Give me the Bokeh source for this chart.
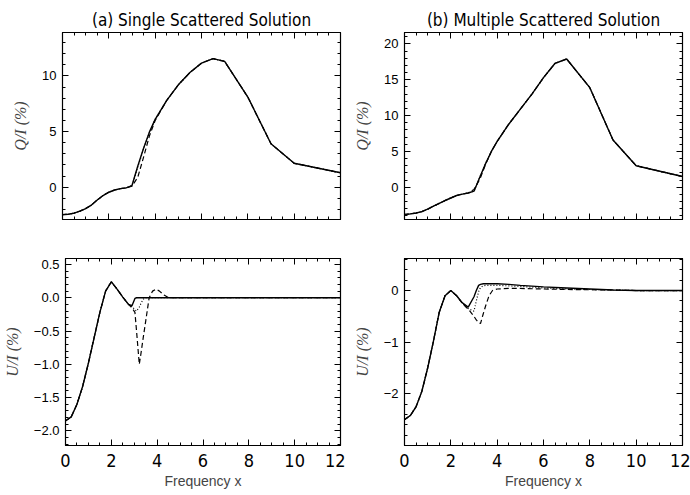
from bokeh.plotting import figure
from bokeh.models import Range1d, FixedTicker, LinearAxis
from bokeh.layouts import column, row
from bokeh.embed import file_html
from bokeh.resources import INLINE

# ---------------- data ----------------
xq = [0, 0.25, 0.5, 0.75, 1.0, 1.25, 1.5, 1.75, 2.0, 2.25, 2.5, 2.75, 3.0,
      3.25, 3.5, 3.75, 4.0, 4.5, 5.0, 5.5, 6.0, 6.5, 7.0, 8.0, 9.0, 10.0, 12.0]

qa_solid = [-2.46, -2.43, -2.33, -2.15, -1.92, -1.6, -1.15, -0.75, -0.45, -0.25, -0.13, -0.06, 0.15,
            1.9, 3.5, 4.95, 6.1, 7.8, 9.2, 10.3, 11.15, 11.55, 11.3, 8.1, 3.9, 2.15, 1.3]
qa_dot = [-2.46, -2.43, -2.33, -2.15, -1.92, -1.6, -1.15, -0.75, -0.45, -0.25, -0.13, -0.06, 0.15,
          1.8, 3.45, 4.9, 6.1, 7.8, 9.2, 10.3, 11.15, 11.55, 11.3, 8.1, 3.9, 2.15, 1.3]
qa_dash = [-2.46, -2.43, -2.33, -2.15, -1.92, -1.6, -1.15, -0.75, -0.45, -0.25, -0.13, -0.06, 0.1,
           0.9, 2.7, 4.6, 6.0, 7.8, 9.2, 10.3, 11.15, 11.55, 11.3, 8.1, 3.9, 2.15, 1.3]

qb_solid = [-3.8, -3.72, -3.6, -3.4, -3.05, -2.65, -2.25, -1.85, -1.5, -1.15, -0.95, -0.8, -0.55,
            1.4, 3.3, 5.0, 6.4, 8.8, 10.9, 13.0, 15.3, 17.3, 17.9, 13.9, 6.6, 3.0, 1.5]
qb_dot = [-3.8, -3.72, -3.6, -3.4, -3.05, -2.65, -2.25, -1.85, -1.5, -1.15, -0.95, -0.8, -0.55,
          1.4, 3.3, 5.0, 6.4, 8.8, 10.9, 13.0, 15.3, 17.3, 17.9, 13.9, 6.6, 3.0, 1.5]
qb_dash = [-3.8, -3.72, -3.6, -3.4, -3.05, -2.65, -2.25, -1.85, -1.5, -1.15, -0.95, -0.8, -0.3,
           1.1, 3.2, 5.0, 6.4, 8.8, 10.9, 13.0, 15.3, 17.3, 17.9, 13.9, 6.6, 3.0, 1.5]

xua = [0, 0.25, 0.5, 0.75, 1.0, 1.25, 1.5, 1.75, 2.0, 2.25, 2.5, 2.75, 2.9, 3.03, 3.1, 3.22,
       3.3, 3.4, 3.5, 3.65, 3.8, 3.95, 4.1, 4.3, 4.5, 5, 6, 7, 8, 9, 10, 11, 12]
ua_solid = [-1.85, -1.79, -1.6, -1.33, -0.98, -0.6, -0.22, 0.1, 0.24, 0.13, 0.01, -0.1, -0.12, -0.01, 0.0, 0.0,
            0, 0, 0, 0, 0, 0, 0, 0, 0, 0, 0, 0, 0, 0, 0, 0, 0]
ua_dot = [-1.85, -1.79, -1.6, -1.33, -0.98, -0.6, -0.22, 0.1, 0.24, 0.13, 0.01, -0.1, -0.13, -0.18, -0.2, -0.14,
          -0.08, -0.02, 0, 0, 0, 0, 0, 0, 0, 0, 0, 0, 0, 0, 0, 0, 0]
ua_dash = [-1.85, -1.79, -1.6, -1.33, -0.98, -0.6, -0.22, 0.1, 0.24, 0.13, 0.01, -0.1, -0.15, -0.22, -0.5, -1.0,
           -0.82, -0.58, -0.35, 0.0, 0.1, 0.13, 0.1, 0.04, 0.0, 0, 0, 0, 0, 0, 0, 0, 0]

xub = [0, 0.25, 0.5, 0.75, 1.0, 1.25, 1.5, 1.75, 2.0, 2.25, 2.5, 2.75, 3.0, 3.1, 3.2, 3.28,
       3.4, 3.5, 3.65, 3.8, 4.0, 4.5, 5, 6, 7, 8, 9, 10, 11, 12]
ub_solid = [-2.5, -2.42, -2.25, -1.95, -1.5, -0.98, -0.42, -0.1, 0.0, -0.1, -0.24, -0.32, -0.12, 0.0, 0.1, 0.12,
            0.13, 0.13, 0.13, 0.13, 0.13, 0.12, 0.1, 0.07, 0.05, 0.03, 0.01, 0.0, 0.0, 0.0]
ub_dot = [-2.5, -2.42, -2.25, -1.95, -1.5, -0.98, -0.42, -0.1, 0.0, -0.1, -0.25, -0.35, -0.4, -0.2, -0.02, 0.06,
          0.09, 0.1, 0.1, 0.1, 0.1, 0.09, 0.08, 0.05, 0.03, 0.02, 0.01, 0.0, 0.0, 0.0]
ub_dash = [-2.5, -2.42, -2.25, -1.95, -1.5, -0.98, -0.42, -0.1, 0.0, -0.1, -0.25, -0.36, -0.5, -0.57, -0.62, -0.64,
           -0.45, -0.3, -0.1, 0.0, 0.03, 0.04, 0.04, 0.03, 0.02, 0.015, 0.01, 0.0, 0.0, 0.0]

x_major = [0, 2, 4, 6, 8, 10, 12]
x_minor = [i * 0.5 for i in range(25)]
x_tick_labels = ["0", "2", "4", "6", "8", "10", "12"]

qa_major = [0, 5, 10]
qa_labels = ["0", "5", "10"]
qb_major = [0, 5, 10, 15, 20]
qb_labels = ["0", "5", "10", "15", "20"]
ua_major = [0.5, 0.0, -0.5, -1.0, -1.5, -2.0]
ua_labels = ["0.5", "0.0", "\u22120.5", "\u22121.0", "\u22121.5", "\u22122.0"]
ub_major = [0, -1, -2]
ub_labels = ["0", "\u22121", "\u22122"]

NARROW = "'Liberation Sans Narrow', 'DejaVu Sans Condensed', sans-serif"
SANS = "'Liberation Sans', sans-serif"
SERIF = "'Liberation Serif', serif"


def style_axis(ax, major, minor, labels, show_labels, size):
    ax.ticker = FixedTicker(ticks=major, minor_ticks=minor)
    if show_labels:
        ax.major_label_overrides = {float(t): s for t, s in zip(major, labels)}
    else:
        ax.major_label_overrides = {float(t): "" for t in major}
        ax.major_label_standoff = 0
    ax.major_tick_in = 6
    ax.major_tick_out = 0
    ax.minor_tick_in = 3
    ax.minor_tick_out = 0
    ax.axis_line_color = "black"
    ax.major_tick_line_color = "black"
    ax.minor_tick_line_color = "black"
    ax.major_label_text_color = "black"
    ax.major_label_text_font_size = size


def make_panel(x, s1, s2, s3, yr, ymajor, yminor, ylabels, title, ylab, show_x,
               bl, br, bt, bb):
    p = figure(width=bl + 278 + br, height=bt + 187 + bb, output_backend="svg",
               toolbar_location=None, x_range=Range1d(0, 12), y_range=Range1d(*yr),
               min_border_left=bl, min_border_right=br, min_border_top=bt,
               min_border_bottom=bb, background_fill_color="white",
               border_fill_color="white")
    p.grid.visible = False
    p.outline_line_color = "black"
    p.outline_line_width = 1.2
    if title:
        p.title.text = title
        p.title.align = "center"
        p.title.text_font = NARROW
        p.title.text_font_size = "17px"
        p.title.text_font_style = "normal"
        p.title.text_color = "black"
        p.title.standoff = 5
        p.title.offset = 0
    p.line(x, s1, line_color="black", line_width=1.4)
    p.line(x, s2, line_color="black", line_width=1.2, line_dash="1 2")
    p.line(x, s3, line_color="black", line_width=1.2, line_dash="5 3")

    xa = p.xaxis[0]
    style_axis(xa, x_major, x_minor, x_tick_labels, show_x, "18px")
    xa.major_label_text_font = NARROW
    if show_x:
        xa.axis_label = "Frequency x"
        xa.axis_label_text_font = SANS
        xa.axis_label_text_font_size = "14px"
        xa.axis_label_text_font_style = "normal"
        xa.axis_label_standoff = 3
        xa.major_label_standoff = 8

    ya = p.yaxis[0]
    style_axis(ya, ymajor, yminor, ylabels, True, "13px")
    ya.major_label_text_font = SANS
    ya.major_label_standoff = 6
    ya.axis_label = ylab
    ya.axis_label_text_font = SERIF
    ya.axis_label_text_font_size = "16px"
    ya.axis_label_text_font_style = "italic"
    ya.axis_label_standoff = 10

    top = LinearAxis()
    style_axis(top, x_major, x_minor, x_tick_labels, False, "1px")
    p.add_layout(top, "above")
    right = LinearAxis()
    style_axis(right, ymajor, yminor, ylabels, False, "1px")
    p.add_layout(right, "right")
    return p


def minor(lo, hi, step):
    n = int(round((hi - lo) / step))
    return [round(lo + i * step, 4) for i in range(n + 1)]


p1 = make_panel(xq, qa_solid, qa_dot, qa_dash, (-2.9, 13.9), qa_major, minor(-2, 13, 1), qa_labels,
                "(a) Single Scattered Solution", "Q/I (%)", False, 62, 5, 32, 21)
p2 = make_panel(xq, qb_solid, qb_dot, qb_dash, (-4.5, 21.6), qb_major, minor(-4, 21, 1), qb_labels,
                "(b) Multiple Scattered Solution", "Q/I (%)", False, 59, 8, 32, 21)
p3 = make_panel(xua, ua_solid, ua_dot, ua_dash, (-2.22, 0.59), ua_major, minor(-2.2, 0.5, 0.1), ua_labels,
                None, "U/I (%)", True, 62, 5, 18, 48)
p4 = make_panel(xub, ub_solid, ub_dot, ub_dash, (-3.0, 0.62), ub_major, minor(-3.0, 0.6, 0.2), ub_labels,
                None, "U/I (%)", True, 59, 8, 18, 48)

layout = column(row(p1, p2), row(p3, p4))
open("out.html", "w").write(file_html(layout, INLINE))
